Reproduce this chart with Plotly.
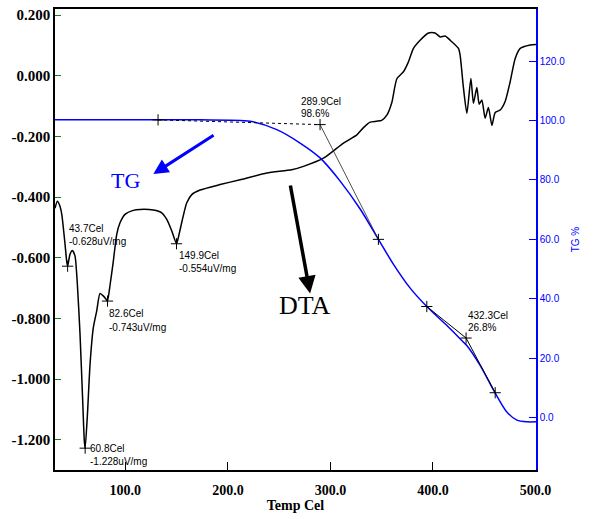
import plotly.graph_objects as go

# DTA signal (uV/mg) against temperature (Cel)
dta_temp = [31.4, 33.7, 36.0, 38.0, 41.2, 42.8, 43.7, 46.0, 48.3, 50.9, 53.2, 55.8,
            58.4, 60.0, 60.8, 62.9, 65.6, 68.8, 72.1, 75.3, 78.5, 81.9, 82.6, 85.1,
            88.3, 91.6, 94.8, 99.7, 107.8, 114.3, 127.3, 135.5, 140.4, 145.3, 149.9,
            152.7, 156.0, 159.9, 164.8, 172.9, 192.4, 211.9, 237.9, 262.3, 273.7,
            293.2, 312.7, 325.8, 332.0, 338.7, 345.0, 350.0, 355.0, 359.9, 364.8,
            371.2, 376.0, 381.0, 387.5, 395.6, 402.1, 407.0, 411.9, 418.4, 424.9,
            426.5, 429.8, 433.1, 437.0, 439.5, 442.8, 445.1, 447.7, 450.9, 454.1,
            457.5, 460.7, 465.6, 470.4, 475.3, 480.2, 485.1, 494.8, 500.5]
dta_val = [-0.437, -0.414, -0.428, -0.457, -0.556, -0.612, -0.628, -0.589, -0.576,
           -0.594, -0.687, -0.852, -1.071, -1.205, -1.228, -1.125, -0.950, -0.830,
           -0.775, -0.718, -0.726, -0.740, -0.743, -0.690, -0.611, -0.523, -0.485,
           -0.457, -0.444, -0.441, -0.443, -0.452, -0.474, -0.512, -0.554, -0.518,
           -0.469, -0.419, -0.392, -0.377, -0.359, -0.343, -0.321, -0.310, -0.299,
           -0.272, -0.222, -0.195, -0.172, -0.153, -0.150, -0.147, -0.130, -0.088,
           -0.010, 0.013, 0.045, 0.090, 0.117, 0.141, 0.141, 0.128, 0.131, 0.112,
           0.090, 0.068, -0.042, -0.124, -0.009, -0.091, -0.039, -0.094, -0.080,
           -0.140, -0.105, -0.164, -0.121, -0.113, -0.085, -0.020, 0.057, 0.090,
           0.101, 0.103]

# TG mass (%) against temperature (Cel)
tg_temp = [31.4, 131.9, 172.9, 221.7, 247.7, 270.4, 289.9, 309.5, 329.0, 346.8,
           361.5, 377.8, 394.0, 413.6, 429.8, 433.0, 446.0, 460.7,
           472.1, 481.9, 491.6, 500.5]
tg_val = [100.2, 100.2, 100.2, 99.7, 96.9, 92.4, 87.4, 79.6, 70.2, 60.0,
          51.6, 43.6, 37.4, 31.0, 25.4, 24.3, 17.6, 8.3,
          1.9, -0.8, -1.4, -1.4]

# DTA peak picks
dta_peak_temp = [43.7, 60.8, 82.6, 149.9]
dta_peak_val = [-0.628, -1.228, -0.743, -0.554]

# TG step construction points
tg_onset_temp = [131.9, 289.9, 346.8]
tg_onset_val = [100.2, 98.6, 60.0]
tg_step_temp = [394.0, 432.3, 460.7]
tg_step_val = [37.4, 26.8, 8.4]

x_ticks = [100, 200, 300, 400, 500]
y_ticks = [-1.2, -1.0, -0.8, -0.6, -0.4, -0.2, 0.0, 0.2]
y2_ticks = [0, 20, 40, 60, 80, 100, 120]

BLUE = "#0000ff"
GREEN = "#1f7a1f"
SERIF = "Liberation Serif, Times New Roman, serif"
SANS = "Liberation Sans, Arial, sans-serif"
LABEL_FONT = dict(family="Liberation Sans Narrow, Liberation Sans, Arial, sans-serif",
                  size=10, color="black")

fig = go.Figure()

fig.add_trace(go.Scatter(x=dta_temp, y=dta_val, mode="lines",
                         line=dict(color="black", width=1.5, shape="spline", smoothing=0.6),
                         yaxis="y", showlegend=False, hoverinfo="skip"))
fig.add_trace(go.Scatter(x=tg_temp, y=tg_val, mode="lines",
                         line=dict(color=BLUE, width=1.5, shape="spline", smoothing=0.8),
                         yaxis="y2", showlegend=False, hoverinfo="skip"))

# onset construction: dotted baseline, then tangent down the step
fig.add_trace(go.Scatter(x=tg_onset_temp[:2], y=tg_onset_val[:2], mode="lines",
                         line=dict(color="black", width=1, dash="dot"),
                         yaxis="y2", showlegend=False, hoverinfo="skip"))
fig.add_trace(go.Scatter(x=tg_onset_temp[1:], y=tg_onset_val[1:], mode="lines",
                         line=dict(color="#222222", width=0.8),
                         yaxis="y2", showlegend=False, hoverinfo="skip"))
fig.add_trace(go.Scatter(x=tg_step_temp, y=tg_step_val, mode="lines",
                         line=dict(color="black", width=1),
                         yaxis="y2", showlegend=False, hoverinfo="skip"))

cross = dict(symbol="cross-thin", size=8, line=dict(color="black", width=1), color="black")
fig.add_trace(go.Scatter(x=dta_peak_temp, y=dta_peak_val, mode="markers", marker=cross,
                         yaxis="y", showlegend=False, hoverinfo="skip"))
fig.add_trace(go.Scatter(x=tg_onset_temp + tg_step_temp, y=tg_onset_val + tg_step_val,
                         mode="markers", marker=cross, yaxis="y2",
                         showlegend=False, hoverinfo="skip"))

annotations = []


def two_line(x, y, yref, lines, dx, dy1, dy2):
    for txt, dy in zip(lines, (dy1, dy2)):
        annotations.append(dict(x=x, y=y, xref="x", yref=yref, text=txt, showarrow=False,
                                xanchor="left", yanchor="middle", xshift=dx, yshift=dy,
                                font=LABEL_FONT))


# DTA peak labels (offsets in pixels from each peak)
peak_offsets = [(-1, 38, 25), (3, 0, -13), (-1, -12, -26), (0, -12, -25)]
for t, v, (dx, d1, d2) in zip(dta_peak_temp, dta_peak_val, peak_offsets):
    two_line(t, v, "y", [f"{t:.1f}Cel", f"{v:.3f}uV/mg"], dx, d1, d2)

# TG step labels
two_line(tg_onset_temp[1], tg_onset_val[1], "y2",
         [f"{tg_onset_temp[1]:.1f}Cel", f"{tg_onset_val[1]:.1f}%"], -21, 23, 11)
two_line(tg_step_temp[1], tg_step_val[1], "y2",
         [f"{tg_step_temp[1]:.1f}Cel", f"{tg_step_val[1]:.1f}%"], 0, 23, 11)

# curve call-outs
annotations.append(dict(x=127.3, y=-0.324, ax=187.5, ay=-0.193, xref="x", yref="y",
                        axref="x", ayref="y", showarrow=True, arrowhead=2, arrowsize=1,
                        arrowwidth=3, arrowcolor=BLUE, text=""))
annotations.append(dict(x=280.2, y=-0.718, ax=260.7, ay=-0.357, xref="x", yref="y",
                        axref="x", ayref="y", showarrow=True, arrowhead=2, arrowsize=1,
                        arrowwidth=3.5, arrowcolor="black", text=""))
annotations.append(dict(x=100.2, y=-0.345, xref="x", yref="y", text="TG", showarrow=False,
                        font=dict(family=SERIF, size=22, color=BLUE)))
annotations.append(dict(x=275.0, y=-0.759, xref="x", yref="y", text="DTA", showarrow=False,
                        font=dict(family=SERIF, size=26, color="black")))

bold14 = dict(family=SERIF, size=14, color="black", weight="bold")
bold15 = dict(family=SERIF, size=15, color="black", weight="bold")

fig.update_layout(
    width=598, height=519,
    margin=dict(l=55, r=62, t=7, b=49),
    paper_bgcolor="white", plot_bgcolor="white",
    showlegend=False,
    annotations=annotations,
    xaxis=dict(range=[31.4, 500.5], tickvals=x_ticks, ticktext=[f"{t:.1f}" for t in x_ticks],
               ticks="inside", ticklen=8, tickwidth=1, tickcolor="black",
               showline=True, linecolor="black", linewidth=1.5, mirror=True,
               showgrid=False, zeroline=False, tickfont=bold14, ticklabelstandoff=6,
               title=dict(text="Temp Cel", font=bold14, standoff=3)),
    yaxis=dict(range=[-1.3, 0.22], tickvals=y_ticks, ticktext=[f"{t:.3f}" for t in y_ticks],
               ticks="inside", ticklen=6, tickwidth=1, tickcolor=GREEN,
               showline=True, linecolor="black", linewidth=1.5,
               showgrid=False, zeroline=False, tickfont=bold15),
    yaxis2=dict(range=[-17.6, 137.5], overlaying="y", side="right", anchor="x",
                tickvals=y2_ticks, ticktext=[f"{t:.1f}" for t in y2_ticks],
                ticks="inside", ticklen=7, tickwidth=1, tickcolor=BLUE,
                showline=True, linecolor=BLUE, linewidth=1.5,
                showgrid=False, zeroline=False,
                tickfont=dict(family=SANS, size=10, color=BLUE),
                title=dict(text="TG %", font=dict(family=SANS, size=10, color=BLUE), standoff=8)),
)

fig.write_html("out.html")
